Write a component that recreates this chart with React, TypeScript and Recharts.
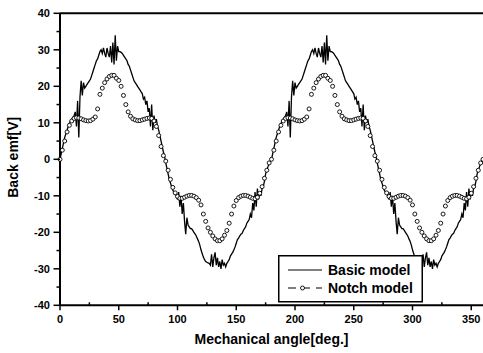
import { LineChart, Line, XAxis, YAxis, Legend, ReferenceLine } from "recharts";

// one 180-degree period of each curve (the reference repeats it exactly)
// basic model: 1 degree steps, 0..179
const basicPeriod = [
  0, 1.5, 3, 4.5, 6, 7, 8, 9, 9.8, 10.5,
  11, 11.5, 12, 13, 9, 16, 6, 17, 21.5, 17.5,
  21, 19.5, 20, 20.5, 21, 21.5, 22, 23, 24, 25,
  26, 27, 27.5, 28.5, 29.5, 30, 29, 30.5, 29, 28,
  30.5, 29, 28, 31, 26.5, 32, 26, 34, 27, 31,
  29.5, 29.5, 29.3, 29, 28.5, 28, 27.5, 27, 26, 25.5,
  24.5, 23.5, 22.5, 21.5, 21, 20.5, 20, 19.5, 19, 18.5,
  18, 16.5, 17, 15, 16, 13, 14, 9, 15, 8,
  12, 10, 11, 9, 8, 6.5, 5, 3.5, 2, 0.8,
  -1, -2.5, -4, -5.5, -6.5, -7.5, -8.5, -9, -9.5, -10,
  -11, -9, -13, -10, -15, -12, -17, -20.5, -16, -18,
  -18.5, -19, -19, -19.5, -20, -20.5, -21, -21.8, -22.5, -23.5,
  -24.8, -25.8, -26.8, -27.5, -28, -28.2, -28.4, -28.5, -29, -26,
  -29.5, -27, -25.5, -29, -27, -29.5, -28, -30, -27.5, -29,
  -28.5, -29.5, -28.5, -28, -27.5, -26.5, -26, -25.5, -24.8, -24,
  -23, -22, -21.6, -21, -20.5, -20.3, -19.5, -19, -18.5, -17.5,
  -17, -16.5, -15, -16, -12, -14, -9, -13, -8, -11,
  -9, -10, -8, -7.5, -6, -4, -3, -2, -1.2, -0.5,
];

// notch model: 2 degree steps, 0..178
const notchPeriod = [
  0, 2.5, 5, 7.5, 9.3, 10.5, 11.2, 11.4, 11.3, 11.1,
  10.8, 10.6, 10.5, 10.6, 11, 11.6, 13.8, 17.8, 19.5, 21,
  22, 22.7, 23, 23, 22.2, 21.6, 20, 17.5, 15, 13,
  11.8, 11.1, 10.8, 10.6, 10.6, 10.8, 11, 11.2, 11.3, 11.2,
  10.5, 9, 6.5, 3.5, 1,
  -0.5, -3, -5.5, -7.7, -9.2, -10.2, -10.7, -10.7, -10.4, -10.1,
  -9.9, -9.9, -10.1, -10.5, -11.2, -12.5, -15, -17, -18.8, -20,
  -21, -21.8, -22.3, -22.3, -21.8, -20.8, -19.5, -17.5, -15, -12.8,
  -11.3, -10.5, -10.1, -9.9, -9.9, -10.1, -10.4, -10.7, -10.8, -10.4,
  -9.3, -7.5, -5.2, -3, -1,
];

const xTicks = [0, 25, 50, 75, 100, 125, 150, 175, 200, 225, 250, 275, 300, 325, 350];
const xLabels = [0, 50, 100, 150, 200, 250, 300, 350];
const yTicks = [-40, -35, -30, -25, -20, -15, -10, -5, 0, 5, 10, 15, 20, 25, 30, 35, 40];
const yLabels = [-40, -30, -20, -10, 0, 10, 20, 30, 40];

const basicData = Array.from({ length: 361 }, (_, i) => ({
  angle: i,
  basic: basicPeriod[i % basicPeriod.length],
}));
const notchData = Array.from({ length: 181 }, (_, i) => ({
  angle: i * 2,
  notch: notchPeriod[i % notchPeriod.length],
}));

const font = "'Liberation Sans', Arial, sans-serif";

function XTick(props: any) {
  const { x, y, payload } = props;
  const major = xLabels.includes(payload.value);
  return (
    <g>
      <line x1={x} x2={x} y1={y} y2={major ? y + 5 : y - 3} stroke="#000" strokeWidth={1.5} />
      {major && (
        <text x={x} y={y + 18} textAnchor="middle" fontFamily={font} fontWeight="bold" fontSize={11} fill="#000">
          {payload.value}
        </text>
      )}
    </g>
  );
}

function YTick(props: any) {
  const { x, y, payload } = props;
  const major = yLabels.includes(payload.value);
  return (
    <g>
      <line x1={x} x2={major ? x - 6.5 : x - 3.5} y1={y} y2={y} stroke="#000" strokeWidth={1.5} />
      {major && (
        <text x={x - 10} y={y + 4} textAnchor="end" fontFamily={font} fontWeight="bold" fontSize={11} fill="#000">
          {payload.value}
        </text>
      )}
    </g>
  );
}

function XTitle(props: any) {
  const { x, y, width } = props.viewBox;
  return (
    <text x={x + width / 2} y={y + 39} textAnchor="middle" fontFamily={font} fontWeight="bold" fontSize={14} fill="#000">
      Mechanical angle[deg.]
    </text>
  );
}

function YTitle(props: any) {
  const { y, height } = props.viewBox;
  const cy = y + height / 2 - 2;
  return (
    <text x={18.5} y={cy} transform={`rotate(-90, 18.5, ${cy})`} textAnchor="middle" fontFamily={font} fontWeight="bold" fontSize={14} fill="#000">
      Back emf[V]
    </text>
  );
}

function LegendBox() {
  return (
    <svg width={145} height={48} style={{ display: "block" }}>
      <rect x={0.75} y={0.75} width={143.5} height={46} fill="#fff" stroke="#000" strokeWidth={1.5} />
      <line x1={10} x2={44} y1={15} y2={15} stroke="#000" strokeWidth={1.2} />
      <text x={50} y={20} fontFamily={font} fontWeight="bold" fontSize={14} fill="#000">
        Basic model
      </text>
      <line x1={10} x2={44} y1={33} y2={33} stroke="#000" strokeWidth={1.2} strokeDasharray="8 6" />
      <circle cx={24.5} cy={33} r={2} fill="#fff" stroke="#000" strokeWidth={0.9} />
      <text x={50} y={38} fontFamily={font} fontWeight="bold" fontSize={14} fill="#000">
        Notch model
      </text>
    </svg>
  );
}

export default function App() {
  return (
    <div style={{ width: 483, height: 353, position: "relative", background: "#fff" }}>
      <style>{"body{margin:0}"}</style>
      <LineChart width={483} height={353} margin={{ top: 13.3, right: 0, left: 0, bottom: 0 }}>
        <XAxis
          type="number"
          dataKey="angle"
          domain={[0, 360]}
          ticks={xTicks}
          interval={0}
          tick={<XTick />}
          tickSize={0}
          tickMargin={0}
          tickLine={false}
          height={47.7}
          axisLine={{ stroke: "#000", strokeWidth: 2 }}
          label={XTitle}
        />
        <YAxis
          type="number"
          domain={[-40, 40]}
          ticks={yTicks}
          interval={0}
          tick={<YTick />}
          tickSize={0}
          tickMargin={0}
          tickLine={false}
          width={60}
          axisLine={{ stroke: "#000", strokeWidth: 2 }}
          label={YTitle}
        />
        <ReferenceLine y={40} stroke="#000" strokeWidth={2} />
        <Line
          data={basicData}
          dataKey="basic"
          name="Basic model"
          stroke="#000"
          strokeWidth={1.3}
          dot={false}
          activeDot={false}
          isAnimationActive={false}
        />
        <Line
          data={notchData}
          dataKey="notch"
          name="Notch model"
          stroke="none"
          dot={{ r: 2, fill: "#fff", stroke: "#000", strokeWidth: 0.9 }}
          activeDot={false}
          isAnimationActive={false}
        />
        <Legend
          layout="horizontal"
          verticalAlign="middle"
          align="center"
          content={LegendBox}
          wrapperStyle={{ left: 278, top: 254.5, width: 145, height: 48 }}
        />
      </LineChart>
    </div>
  );
}
